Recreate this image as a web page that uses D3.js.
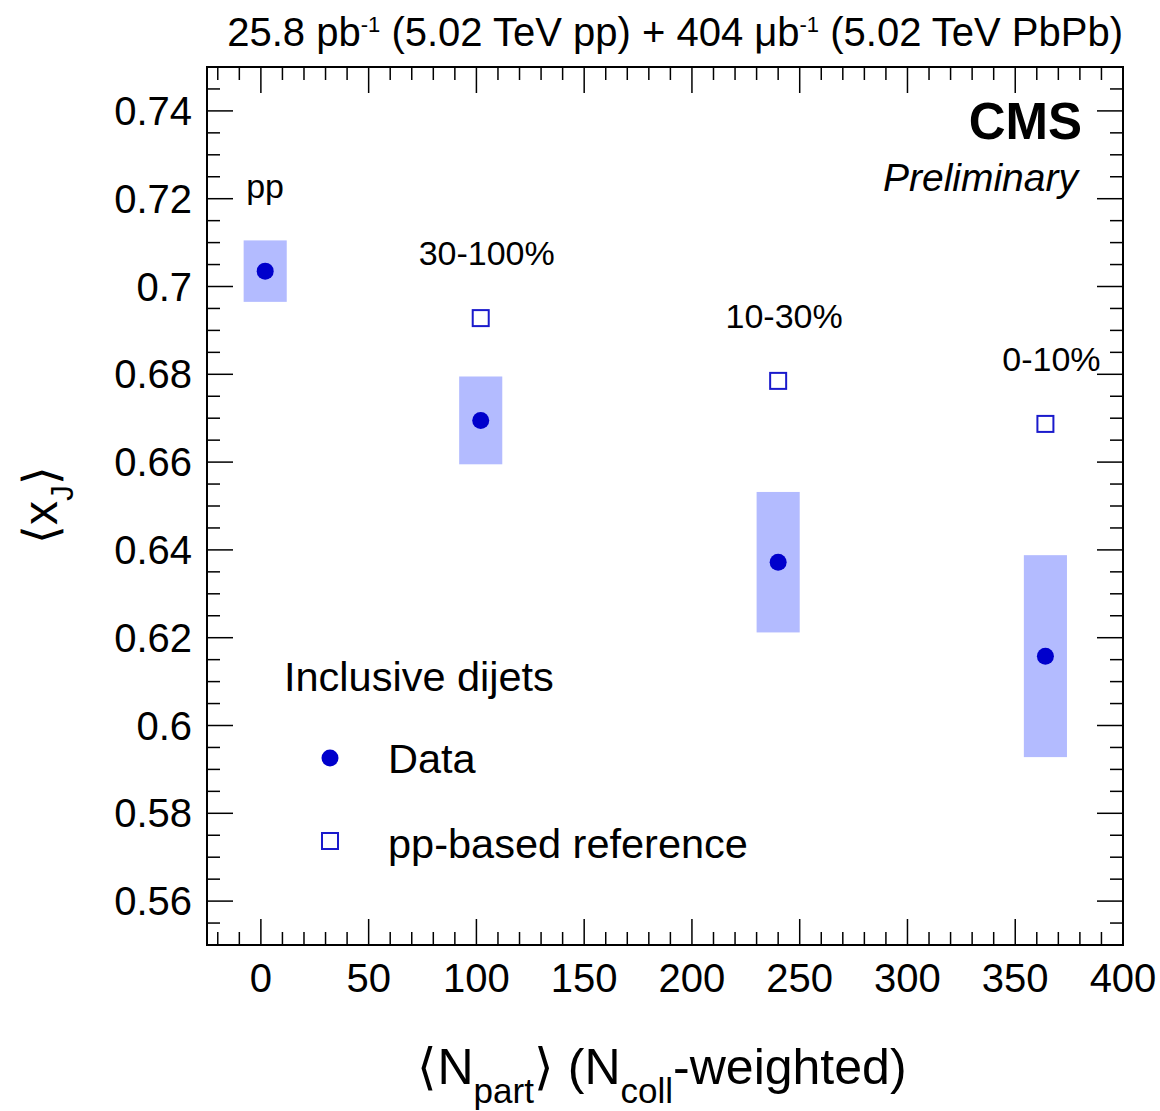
<!DOCTYPE html>
<html>
<head>
<meta charset="utf-8">
<script src="https://cdn.jsdelivr.net/npm/d3@7"></script>
<style>
  html, body { margin: 0; padding: 0; background: #fff; }
  svg { display: block; font-family: "Liberation Sans", Arial, Helvetica, sans-serif; }
</style>
</head>
<body>
<svg id="chart" width="1160" height="1111"></svg>
<script>
// Centrality classes and measured <x_J>
const classes   = ["pp", "30-100%", "10-30%", "0-10%"];
const nPart     = [2, 102, 240, 364];
const xjData    = [0.7035, 0.6695, 0.6372, 0.6158];
const xjSyst    = [0.007, 0.010, 0.016, 0.023];
// pp-based reference (PbPb classes only)
const refNPart   = [102, 240, 364];
const xjRef      = [0.6928, 0.6785, 0.6687];
const xTicks = [0, 50, 100, 150, 200, 250, 300, 350, 400];
const yTicks = [0.56, 0.58, 0.60, 0.62, 0.64, 0.66, 0.68, 0.70, 0.72, 0.74];

const svg = d3.select("#chart");
const L = 207, R = 1123, T = 67, B = 945;
const x = d3.scaleLinear().domain([-25, 400]).range([L, R]);
const y = d3.scaleLinear().domain([0.55, 0.75]).range([B, T]);

const boxColor = "#b3bbff", markColor = "#0000cc", refColor = "#1a1acc";

// Systematic boxes (±10 in Npart)
svg.append("g").selectAll("rect").data(nPart).join("rect")
  .attr("x", d => x(d - 10))
  .attr("width", d => x(d + 10) - x(d - 10))
  .attr("y", (d, i) => y(xjData[i] + xjSyst[i]))
  .attr("height", (d, i) => y(xjData[i] - xjSyst[i]) - y(xjData[i] + xjSyst[i]))
  .attr("fill", boxColor);

// Reference markers
svg.append("g").selectAll("rect").data(refNPart).join("rect")
  .attr("x", d => x(d) - 8)
  .attr("y", (d, i) => y(xjRef[i]) - 8)
  .attr("width", 16).attr("height", 16)
  .attr("fill", "none").attr("stroke", refColor).attr("stroke-width", 2);

// Data markers
svg.append("g").selectAll("circle").data(nPart).join("circle")
  .attr("cx", d => x(d)).attr("cy", (d, i) => y(xjData[i]))
  .attr("r", 8.5).attr("fill", markColor);

// Class labels: pp sits above its box, PbPb classes above their reference marker
svg.append("g").selectAll("text").data(classes).join("text")
  .attr("x", (d, i) => i === 0 ? x(nPart[0]) - 19 : x(nPart[i]) + 6)
  .attr("y", (d, i) => i === 0 ? y(xjData[0] + xjSyst[0]) - 42 : y(xjRef[i - 1]) - 53)
  .attr("text-anchor", (d, i) => i === 0 ? "start" : "middle")
  .attr("font-size", 34).attr("fill", "#000")
  .text(d => d);

// Axes with ticks on all four sides
const major = 26, minor = 13;
const gx = svg.append("g").attr("stroke", "#000").attr("stroke-width", 1.5);
d3.range(-20, 401, 10).forEach(v => {
  const len = (v % 50 === 0) ? major : minor;
  gx.append("line").attr("x1", x(v)).attr("x2", x(v)).attr("y1", B).attr("y2", B - len);
  gx.append("line").attr("x1", x(v)).attr("x2", x(v)).attr("y1", T).attr("y2", T + len);
});
d3.range(0.55, 0.7501, 0.005).forEach(v => {
  const k = Math.round(v * 1000);
  const len = (k % 20 === 0) ? major : minor;
  gx.append("line").attr("y1", y(v)).attr("y2", y(v)).attr("x1", L).attr("x2", L + len);
  gx.append("line").attr("y1", y(v)).attr("y2", y(v)).attr("x1", R).attr("x2", R - len);
});

// Frame
svg.append("rect").attr("x", L).attr("y", T).attr("width", R - L).attr("height", B - T)
  .attr("fill", "none").attr("stroke", "#000").attr("stroke-width", 2);

// Tick labels
svg.append("g").selectAll("text").data(xTicks).join("text")
  .attr("x", d => x(d)).attr("y", 992)
  .attr("text-anchor", "middle").attr("font-size", 40)
  .text(d => d);
svg.append("g").selectAll("text").data(yTicks).join("text")
  .attr("x", 192).attr("y", d => y(d) + 14)
  .attr("text-anchor", "end").attr("font-size", 40)
  .text(d => String(+d.toFixed(2)));

// Luminosity header
const hdr = svg.append("text").attr("x", R).attr("y", 46)
  .attr("text-anchor", "end").attr("font-size", 40);
hdr.append("tspan").text("25.8 pb");
hdr.append("tspan").attr("dy", -14).attr("font-size", 22).text("-1");
hdr.append("tspan").attr("dy", 14).text(" (5.02 TeV pp) + 404 μb");
hdr.append("tspan").attr("dy", -14).attr("font-size", 22).text("-1");
hdr.append("tspan").attr("dy", 14).text(" (5.02 TeV PbPb)");

// Experiment tag
svg.append("text").attr("x", 1082).attr("y", 139).attr("text-anchor", "end")
  .attr("font-size", 51).attr("font-weight", "bold").text("CMS");
svg.append("text").attr("x", 1078).attr("y", 191).attr("text-anchor", "end")
  .attr("font-size", 39).attr("font-style", "italic").text("Preliminary");

// Legend
svg.append("text").attr("x", 284).attr("y", 691).attr("font-size", 41.5).text("Inclusive dijets");
svg.append("circle").attr("cx", 330).attr("cy", 758).attr("r", 8.5).attr("fill", markColor);
svg.append("text").attr("x", 388).attr("y", 773).attr("font-size", 41.5).text("Data");
svg.append("rect").attr("x", 322).attr("y", 833).attr("width", 16).attr("height", 16)
  .attr("fill", "none").attr("stroke", refColor).attr("stroke-width", 2);
svg.append("text").attr("x", 388).attr("y", 858).attr("font-size", 41.5).text("pp-based reference");

// Axis titles
const xt = svg.append("text").attr("x", 662).attr("y", 1084).attr("text-anchor", "middle")
  .attr("font-size", 50);
xt.append("tspan").text("⟨N");
xt.append("tspan").attr("dy", 19).attr("font-size", 35).text("part");
xt.append("tspan").attr("dy", -19).text("⟩ (N");
xt.append("tspan").attr("dy", 19).attr("font-size", 35).text("coll");
xt.append("tspan").attr("dy", -19).text("-weighted)");

const yt = svg.append("text").attr("transform", "translate(57,505) rotate(-90)")
  .attr("text-anchor", "middle").attr("font-size", 48);
yt.append("tspan").text("⟨x");
yt.append("tspan").attr("dy", 16).attr("font-size", 32).text("J");
yt.append("tspan").attr("dy", -16).text("⟩");
</script>
</body>
</html>
